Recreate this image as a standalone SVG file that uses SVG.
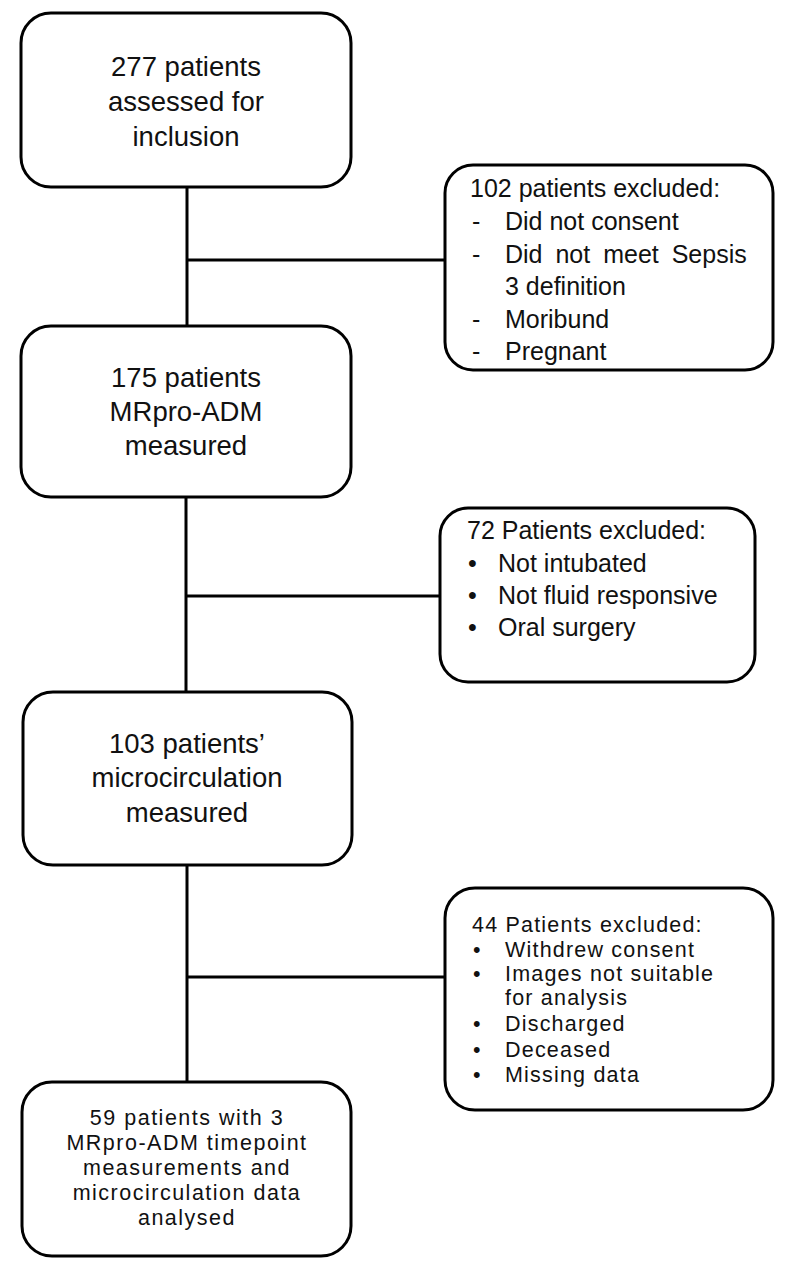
<svg xmlns="http://www.w3.org/2000/svg" width="791" height="1267" viewBox="0 0 791 1267">
<style>
.box{fill:#fff;stroke:#000;stroke-width:3}
.ln{stroke:#000;stroke-width:3;fill:none}
.c{font-family:"Liberation Sans",Arial,sans-serif;font-size:27.5px;fill:#111;text-anchor:middle}
.c4{font-family:"Liberation Sans",Arial,sans-serif;font-size:21.5px;letter-spacing:1.5px;fill:#111;text-anchor:middle}
.e{font-family:"Liberation Sans",Arial,sans-serif;font-size:25px;fill:#111}
.e3{font-family:"Liberation Sans",Arial,sans-serif;font-size:21.5px;letter-spacing:1.2px;fill:#111}
</style>
<rect width="791" height="1267" fill="#fff"/>
<g id="connectors">
<path class="ln" d="M187 187 V326 M187 260 H445"/>
<path class="ln" d="M186 497 V692 M186 596 H440"/>
<path class="ln" d="M187 865 V1082 M187 977 H445"/>
</g>
<g id="n1">
<rect class="box" x="21" y="13" width="330" height="174" rx="30"/>
<text class="c" x="186" y="76">277 patients</text>
<text class="c" x="186" y="111">assessed for</text>
<text class="c" x="186" y="146">inclusion</text>
</g>
<g id="n2">
<rect class="box" x="21" y="326" width="330" height="171" rx="30"/>
<text class="c" x="186" y="387">175 patients</text>
<text class="c" x="186" y="421">MRpro-ADM</text>
<text class="c" x="186" y="455">measured</text>
</g>
<g id="n3">
<rect class="box" x="23" y="692" width="329" height="173" rx="30"/>
<text class="c" x="187" y="753">103 patients’</text>
<text class="c" x="187" y="787">microcirculation</text>
<text class="c" x="187" y="822">measured</text>
</g>
<g id="n4">
<rect class="box" x="22" y="1082" width="329" height="174" rx="30"/>
<text class="c4" x="187" y="1125">59 patients with 3</text>
<text class="c4" x="187" y="1150">MRpro-ADM timepoint</text>
<text class="c4" x="187" y="1175">measurements and</text>
<text class="c4" x="187" y="1200">microcirculation data</text>
<text class="c4" x="187" y="1225">analysed</text>
</g>
<g id="x1">
<rect class="box" x="445" y="165" width="328" height="205" rx="28"/>
<text class="e" x="470" y="197">102 patients excluded:</text>
<text class="e" x="472" y="230">-</text><text class="e" x="505" y="230">Did not consent</text>
<text class="e" x="472" y="263">-</text><text class="e" x="505" y="263" word-spacing="6">Did not meet Sepsis</text>
<text class="e" x="505" y="295">3 definition</text>
<text class="e" x="472" y="328">-</text><text class="e" x="505" y="328">Moribund</text>
<text class="e" x="472" y="360">-</text><text class="e" x="505" y="360">Pregnant</text>
</g>
<g id="x2">
<rect class="box" x="440" y="508" width="315" height="174" rx="28"/>
<text class="e" x="467" y="539">72 Patients excluded:</text>
<text class="e" x="468" y="572">•</text><text class="e" x="498" y="572">Not intubated</text>
<text class="e" x="468" y="604">•</text><text class="e" x="498" y="604">Not fluid responsive</text>
<text class="e" x="468" y="636">•</text><text class="e" x="498" y="636">Oral surgery</text>
</g>
<g id="x3">
<rect class="box" x="445" y="888" width="328" height="222" rx="30"/>
<text class="e3" x="472" y="932">44 Patients excluded:</text>
<text class="e3" x="473" y="957">•</text><text class="e3" x="505" y="957">Withdrew consent</text>
<text class="e3" x="473" y="981">•</text><text class="e3" x="505" y="981">Images not suitable</text>
<text class="e3" x="505" y="1005">for analysis</text>
<text class="e3" x="473" y="1031">•</text><text class="e3" x="505" y="1031">Discharged</text>
<text class="e3" x="473" y="1057">•</text><text class="e3" x="505" y="1057">Deceased</text>
<text class="e3" x="473" y="1082">•</text><text class="e3" x="505" y="1082">Missing data</text>
</g>
</svg>
